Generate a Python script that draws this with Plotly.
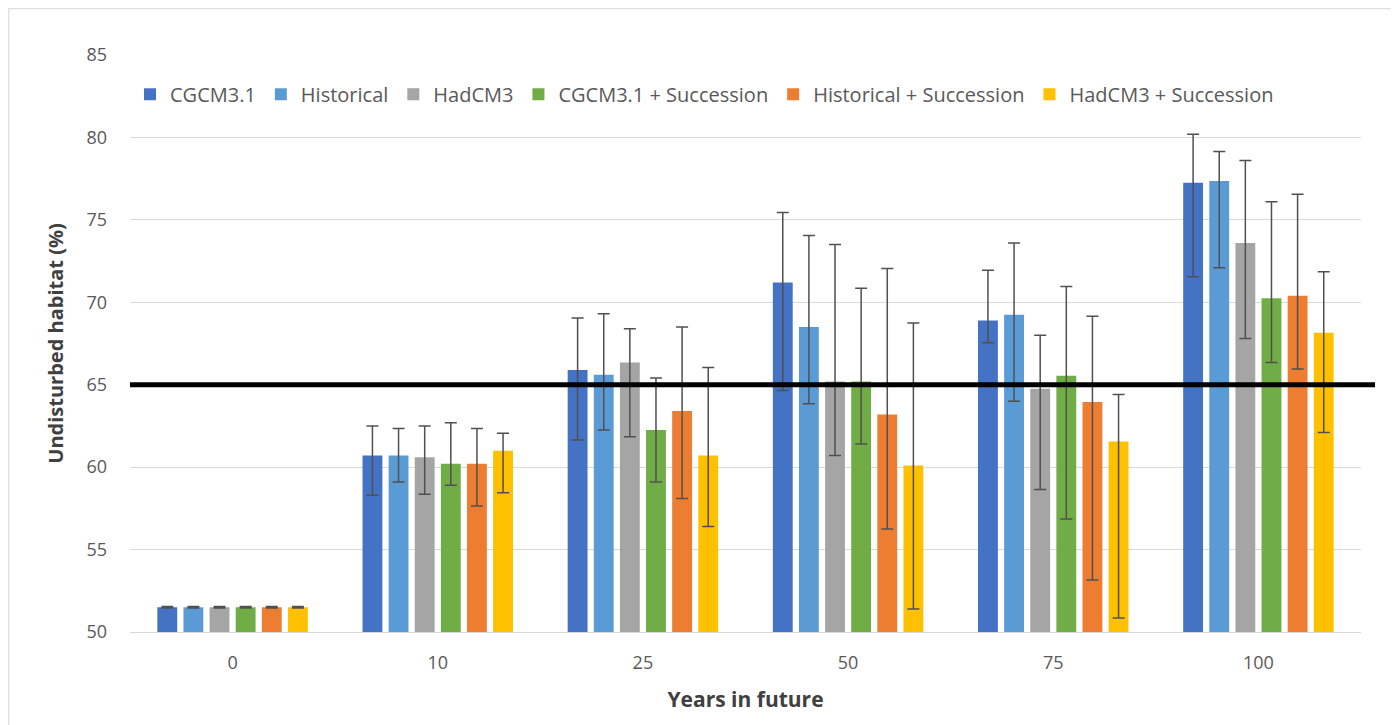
import plotly.graph_objects as go

years = ["0", "10", "25", "50", "75", "100"]
series_names = ["CGCM3.1", "Historical", "HadCM3", "CGCM3.1 + Succession",
                "Historical + Succession", "HadCM3 + Succession"]
colors = ["#4472C4", "#5B9BD5", "#A5A5A5", "#70AD47", "#ED7D31", "#FFC000"]

cgcm = [51.5, 60.7, 65.9, 71.2, 68.9, 77.25]
cgcm_plus = [0.05, 1.8, 3.15, 4.25, 3.05, 2.95]
cgcm_minus = [0.05, 2.4, 4.25, 6.55, 1.35, 5.7]

hist = [51.5, 60.7, 65.6, 68.5, 69.25, 77.35]
hist_plus = [0.05, 1.65, 3.7, 5.55, 4.35, 1.8]
hist_minus = [0.05, 1.6, 3.35, 4.65, 5.25, 5.25]

had = [51.5, 60.6, 66.35, 65.2, 64.75, 73.6]
had_plus = [0.05, 1.9, 2.05, 8.3, 3.25, 5.0]
had_minus = [0.05, 2.25, 4.5, 4.5, 6.1, 5.8]

cgcm_s = [51.5, 60.2, 62.25, 65.2, 65.55, 70.25]
cgcm_s_plus = [0.05, 2.5, 3.15, 5.65, 5.4, 5.85]
cgcm_s_minus = [0.05, 1.3, 3.15, 3.8, 8.7, 3.9]

hist_s = [51.5, 60.2, 63.4, 63.2, 63.95, 70.4]
hist_s_plus = [0.05, 2.15, 5.1, 8.85, 5.2, 6.15]
hist_s_minus = [0.05, 2.55, 5.3, 6.95, 10.8, 4.45]

had_s = [51.5, 61.0, 60.7, 60.1, 61.55, 68.15]
had_s_plus = [0.05, 1.05, 5.35, 8.65, 2.85, 3.7]
had_s_minus = [0.05, 2.55, 4.3, 8.7, 10.7, 6.05]

threshold = 65

values = [cgcm, hist, had, cgcm_s, hist_s, had_s]
plus = [cgcm_plus, hist_plus, had_plus, cgcm_s_plus, hist_s_plus, had_s_plus]
minus = [cgcm_minus, hist_minus, had_minus, cgcm_s_minus, hist_s_minus, had_s_minus]

FONT = "Open Sans"
GREY = "#595959"

fig = go.Figure()
for name, col, v, p, m in zip(series_names, colors, values, plus, minus):
    fig.add_trace(go.Bar(
        x=years, y=v, name=name, marker=dict(color=col, line=dict(width=0)),
        error_y=dict(type="data", symmetric=False, array=p, arrayminus=m,
                     color="#505050", thickness=1.5, width=6),
    ))

fig.add_shape(type="line", xref="paper", yref="y", x0=0, x1=1.0114,
              y0=threshold, y1=threshold, line=dict(color="black", width=5),
              layer="above")

# outer frame (left and top edges of the figure)
fig.add_shape(type="line", xref="paper", yref="paper", x0=-0.0985, x1=-0.0985,
              y0=-0.2, y1=1.0806, line=dict(color="#e0e0e0", width=1.5))
fig.add_shape(type="line", xref="paper", yref="paper", x0=-0.0985, x1=1.05,
              y0=1.0806, y1=1.0806, line=dict(color="#e0e0e0", width=1.5))

fig.update_layout(
    width=1391, height=717,
    margin=dict(l=122, r=38, t=47, b=93),
    paper_bgcolor="white", plot_bgcolor="white",
    barmode="group", bargap=0.236, bargroupgap=0.24,
    font=dict(family=FONT, color=GREY, size=18),
    legend=dict(orientation="h", x=0.0, xanchor="left", y=0.932, yanchor="middle",
                font=dict(family=FONT, size=20, color=GREY),
                bgcolor="rgba(0,0,0,0)", itemclick=False),
    xaxis=dict(type="category", showgrid=False, showline=True, linecolor="#d9d9d9",
               linewidth=1, ticks="", ticklabelstandoff=14,
               tickfont=dict(family=FONT, size=18, color=GREY),
               title=dict(text="<b>Years in future</b>", standoff=19,
                          font=dict(family=FONT, size=21, color="#404040"))),
    yaxis=dict(range=[50, 85], tickvals=[50, 55, 60, 65, 70, 75, 80, 85],
               showgrid=True, gridcolor="#d9d9d9", gridwidth=1, zeroline=False,
               ticks="", ticklabelstandoff=22,
               tickfont=dict(family=FONT, size=18, color=GREY),
               title=dict(text="<b>Undisturbed habitat (%)</b>", standoff=17,
                          font=dict(family=FONT, size=20, color="#404040"))),
)

fig.write_html("out.html")
